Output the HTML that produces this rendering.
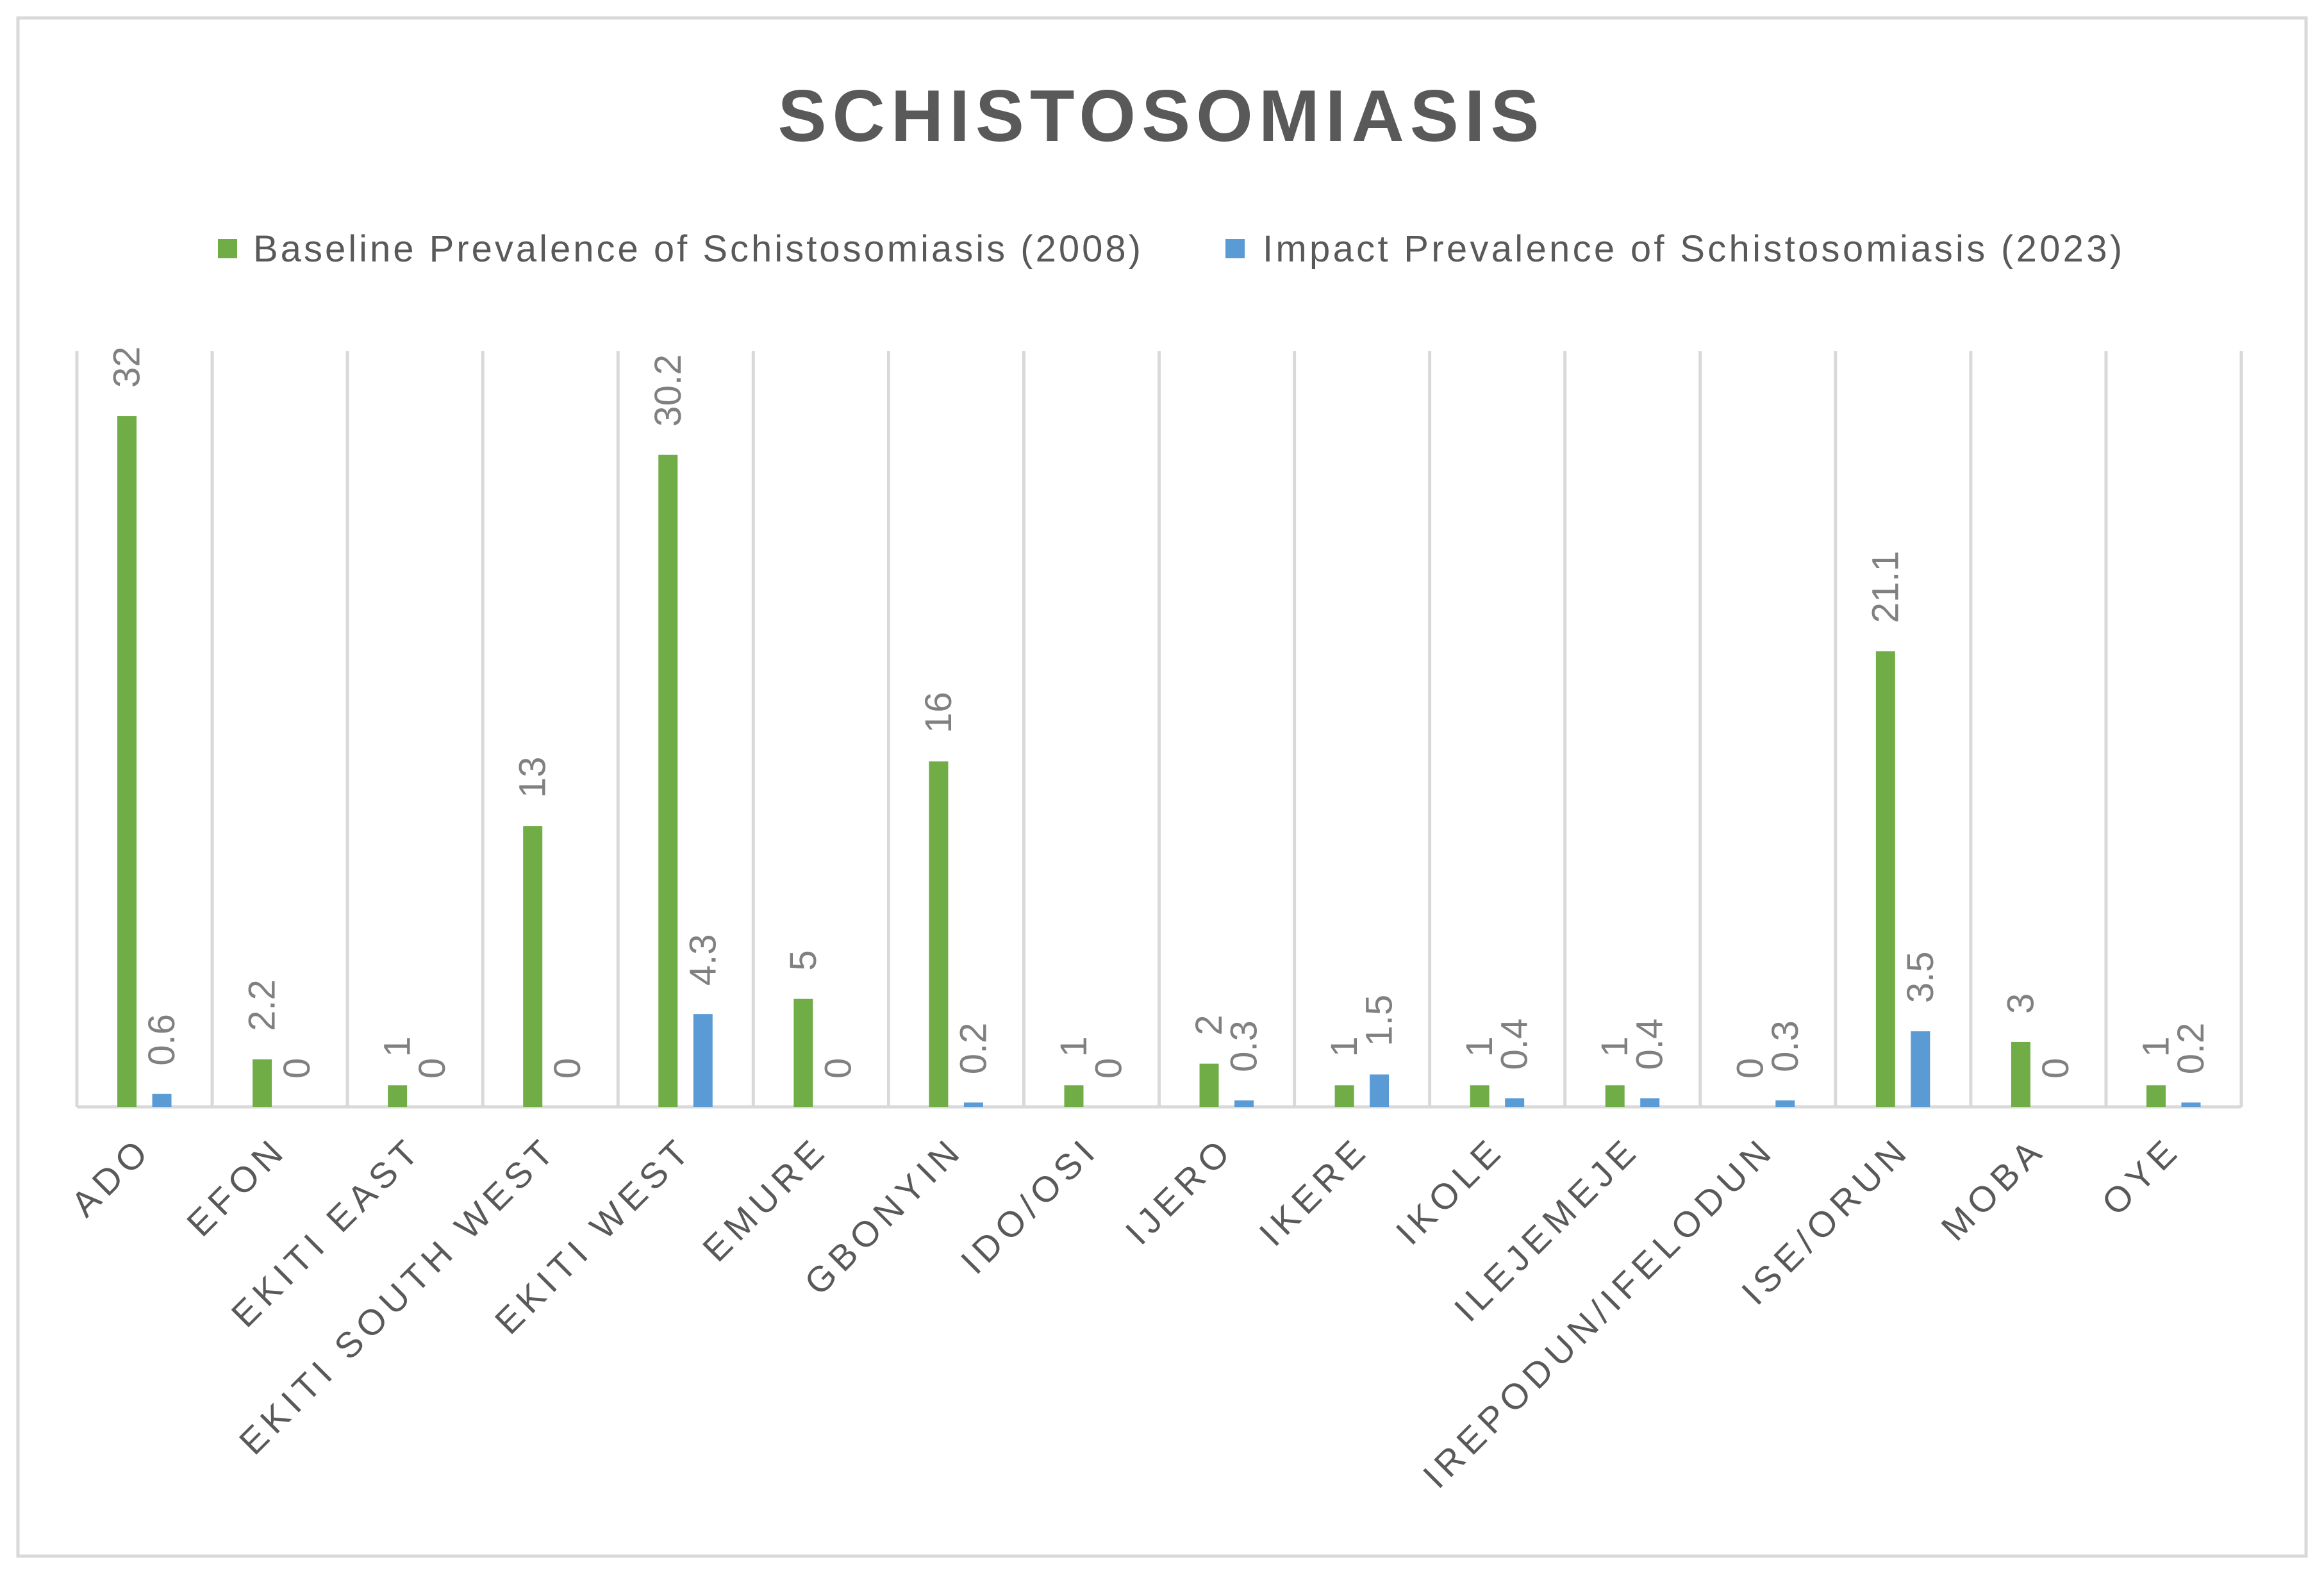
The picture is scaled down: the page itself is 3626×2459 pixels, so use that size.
<!DOCTYPE html>
<html><head><meta charset="utf-8"><style>
html,body{margin:0;padding:0;background:#fff;}
svg{display:block;}
text{font-family:"Liberation Sans",sans-serif;}
</style></head><body>
<svg id="chart" width="3626" height="2459" viewBox="0 0 3626 2459" xmlns="http://www.w3.org/2000/svg">
<rect x="28" y="28" width="3570" height="2400" fill="#fff" stroke="#d9d9d9" stroke-width="5"/>
<text x="1812" y="220" text-anchor="middle" font-size="114" font-weight="bold" fill="#595959" letter-spacing="9">SCHISTOSOMIASIS</text>
<g>
<rect x="340" y="373" width="30" height="30" fill="#70ad47"/>
<text x="395" y="408" font-size="58" fill="#595959" letter-spacing="4">Baseline Prevalence of Schistosomiasis (2008)</text>
<rect x="1912" y="373" width="30" height="30" fill="#5b9bd5"/>
<text x="1970" y="408" font-size="58" fill="#595959" letter-spacing="4.3">Impact Prevalence of Schistosomiasis (2023)</text>
</g>
<g id="plot"></g>
</svg>
<script>
const categories = ["ADO","EFON","EKITI EAST","EKITI SOUTH WEST","EKITI WEST","EMURE","GBONYIN","IDO/OSI","IJERO","IKERE","IKOLE","ILEJEMEJE","IREPODUN/IFELODUN","ISE/ORUN","MOBA","OYE"];
const baselineValues = [32,2.2,1,13,30.2,5,16,1,2,1,1,1,0,21.1,3,1];
const impactValues = [0.6,0,0,0,4.3,0,0.2,0,0.3,1.5,0.4,0.4,0.3,3.5,0,0.2];
const yMax = 35;

const NS = "http://www.w3.org/2000/svg";
const plot = document.getElementById("plot");
const pLeft = 120, pRight = 3497, pTop = 548, pBottom = 1727;
const band = (pRight - pLeft) / categories.length;
function xBand(i){ return pLeft + i * band; }
function yScale(v){ return pBottom - (v / yMax) * (pBottom - pTop); }
function mk(tag, attrs){ const e = document.createElementNS(NS, tag); for (const k in attrs) e.setAttribute(k, attrs[k]); return e; }

for (let i = 0; i <= categories.length; i++) {
  const g = mk("line", {x1: xBand(i), x2: xBand(i), y1: pTop, y2: pBottom, stroke: "#d9d9d9", "stroke-width": 5});
  
  
  plot.appendChild(g);
}
const axis = mk("line", {x1: pLeft, x2: pRight, y1: pBottom, y2: pBottom, stroke: "#d9d9d9", "stroke-width": 5});


plot.appendChild(axis);

const bw = 30;
function addBar(i, v, offset, color, name){
  const cx = xBand(i) + band / 2 + offset;
  const y = yScale(v);
  const r = mk("rect", {x: cx - bw/2, y: y, width: bw, height: pBottom - y, fill: color});
  
  
  plot.appendChild(r);
  const t = mk("text", {x: 0, y: 0, "font-size": 58, fill: "#808080", "dominant-baseline": "central", transform: "translate(" + cx + "," + (y - 44) + ") rotate(-90)"});
  t.textContent = String(v);
  
  
  plot.appendChild(t);
}
for (let i = 0; i < categories.length; i++) {
  addBar(i, baselineValues[i], -27.5, "#70ad47", "bar-baseline");
  addBar(i, impactValues[i], 27, "#5b9bd5", "bar-impact");
  const cx = xBand(i) + band / 2;
  const t = mk("text", {x: 0, y: 0, "font-size": 56, fill: "#595959", "text-anchor": "end", "letter-spacing": 9, transform: "translate(" + (cx + 14) + "," + (pBottom + 70) + ") rotate(-45)"});
  t.textContent = categories[i];
  
  
  plot.appendChild(t);
}
</script>
</body></html>
